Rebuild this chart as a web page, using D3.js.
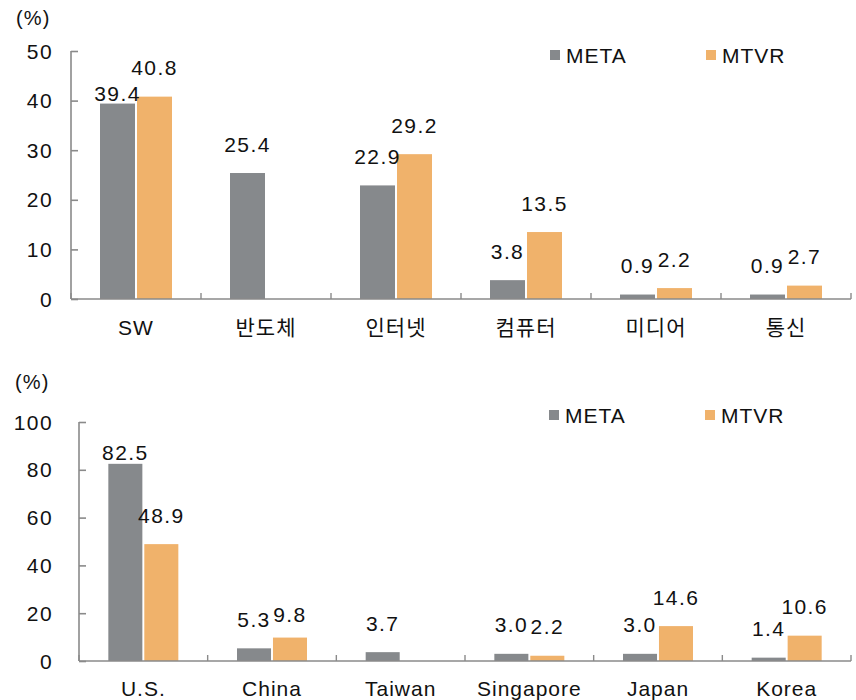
<!DOCTYPE html>
<html>
<head>
<meta charset="utf-8">
<script src="https://cdn.jsdelivr.net/npm/d3@7"></script>
<style>
  body { margin: 0; background: #fff; }
  svg text { font-family: "Liberation Sans", Arial, "Noto Sans CJK KR", sans-serif; fill: #111; }
</style>
</head>
<body>
<svg id="chart" width="856" height="700"></svg>
<script>
// top panel: by sector
var sectors = ['SW', '반도체', '인터넷', '컴퓨터', '미디어', '통신'];
var sectorMeta = [39.4, 25.4, 22.9, 3.8, 0.9, 0.9];
var sectorMtvr = [40.8, null, 29.2, 13.5, 2.2, 2.7];
var sectorTicks = [0, 10, 20, 30, 40, 50];

// bottom panel: by country
var countries = ['U.S.', 'China', 'Taiwan', 'Singapore', 'Japan', 'Korea'];
var countryMeta = [82.5, 5.3, 3.7, 3.0, 3.0, 1.4];
var countryMtvr = [48.9, 9.8, null, 2.2, 14.6, 10.6];
var countryTicks = [0, 20, 40, 60, 80, 100];

var seriesNames = ['META', 'MTVR'];
var colors = {META: '#86898c', MTVR: '#f0b26b'};

// labels that were moved by hand in the original
var labelLift = {'SW|META': 10, 'U.S.|META': 11, 'China|MTVR': 23};

var svg = d3.select('#chart');

function panel(opt) {
  var g = svg.append('g');
  var y = d3.scaleLinear().domain([0, opt.max]).range([opt.y0, opt.y1]);
  var x = d3.scaleBand().domain(opt.cats).range([opt.x0, opt.x1]);
  var pad = (x.bandwidth() - opt.group) / 2;
  var xs = d3.scaleBand().domain(seriesNames).range([pad, pad + opt.group]).paddingInner(0.054);

  var rows = [];
  opt.cats.forEach(function(c, i) {
    rows.push({cat: c, s: 'META', v: opt.meta[i]});
    rows.push({cat: c, s: 'MTVR', v: opt.mtvr[i]});
  });
  rows = rows.filter(function(d) { return d.v != null; });

  // bars
  g.selectAll('.bar').data(rows).enter().append('rect')
      .attr('x', function(d) { return x(d.cat) + xs(d.s); })
      .attr('width', xs.bandwidth())
      .attr('y', function(d) { return y(d.v); })
      .attr('height', function(d) { return y(0) - y(d.v); })
      .attr('fill', function(d) { return colors[d.s]; });

  // value labels
  g.selectAll('.val').data(rows).enter().append('text')
      .attr('x', function(d) { return x(d.cat) + xs(d.s) + xs.bandwidth() / 2; })
      .attr('y', function(d) {
        var lift = labelLift[d.cat + '|' + d.s];
        return y(d.v) - (lift == null ? 29 : lift);
      })
      .attr('dy', '0.36em')
      .attr('text-anchor', 'middle')
      .style('font-size', '21px')
      .style('letter-spacing', '1.4px')
      .text(function(d) { return d.v.toFixed(1); });

  // y axis
  var ya = g.append('g').attr('transform', 'translate(' + opt.x0 + ',0)')
      .call(d3.axisRight(y).tickValues(opt.ticks).tickSize(7).tickFormat(''));
  ya.select('.domain').attr('d', 'M0,' + opt.y0 + 'V' + opt.y1);
  ya.selectAll('line, path').attr('stroke', '#8a8a8a').attr('stroke-width', 1.6);

  g.selectAll('.ytl').data(opt.ticks).enter().append('text')
      .attr('x', 53)
      .attr('y', function(d) { return y(d); })
      .attr('dy', '0.36em')
      .attr('text-anchor', 'end')
      .style('font-size', '21px')
      .style('letter-spacing', '1.4px')
      .text(function(d) { return d; });

  // x axis with category boundary ticks
  var xa = g.append('g').attr('transform', 'translate(0,' + opt.y0 + ')');
  xa.append('line').attr('x1', opt.x0).attr('x2', opt.x1)
      .attr('stroke', '#8a8a8a').attr('stroke-width', 1.6);
  var bounds = opt.cats.map(function(c) { return x(c); }).concat([opt.x1]);
  xa.selectAll('.xt').data(bounds).enter().append('line')
      .attr('x1', function(d) { return d; }).attr('x2', function(d) { return d; })
      .attr('y1', 0).attr('y2', -6)
      .attr('stroke', '#8a8a8a').attr('stroke-width', 1.4);

  g.selectAll('.xtl').data(opt.cats).enter().append('text')
      .attr('x', function(d) { return x(d) + x.bandwidth() / 2; })
      .attr('y', opt.catY)
      .attr('dy', '0.36em')
      .attr('text-anchor', 'middle')
      .style('font-size', '21px')
      .style('letter-spacing', '1px')
      .text(function(d) { return d; });

  // unit
  g.append('text').attr('x', opt.unitX).attr('y', opt.unitY).attr('dy', '0.36em')
      .style('font-size', '20px').style('letter-spacing', '1.2px').text('(%)');

  // legend
  var lg = g.selectAll('.lg').data(seriesNames).enter().append('g')
      .attr('transform', function(d, i) { return 'translate(' + (opt.legX + i * 156) + ',' + opt.legY + ')'; });
  lg.append('rect').attr('x', 0).attr('y', -5).attr('width', 10).attr('height', 10)
      .attr('fill', function(d) { return colors[d]; });
  lg.append('text').attr('x', 16).attr('y', 0).attr('dy', '0.36em')
      .style('font-size', '21px').style('letter-spacing', '1px')
      .text(function(d) { return d; });
}

panel({cats: sectors, meta: sectorMeta, mtvr: sectorMtvr, ticks: sectorTicks, max: 50,
       x0: 71, x1: 851, y0: 299, y1: 51, group: 72, catY: 327,
       unitX: 16, unitY: 18, legX: 550, legY: 55});

panel({cats: countries, meta: countryMeta, mtvr: countryMtvr, ticks: countryTicks, max: 100,
       x0: 79, x1: 851, y0: 661, y1: 422, group: 70, catY: 688,
       unitX: 15, unitY: 382, legX: 549, legY: 415});
</script>
</body>
</html>
